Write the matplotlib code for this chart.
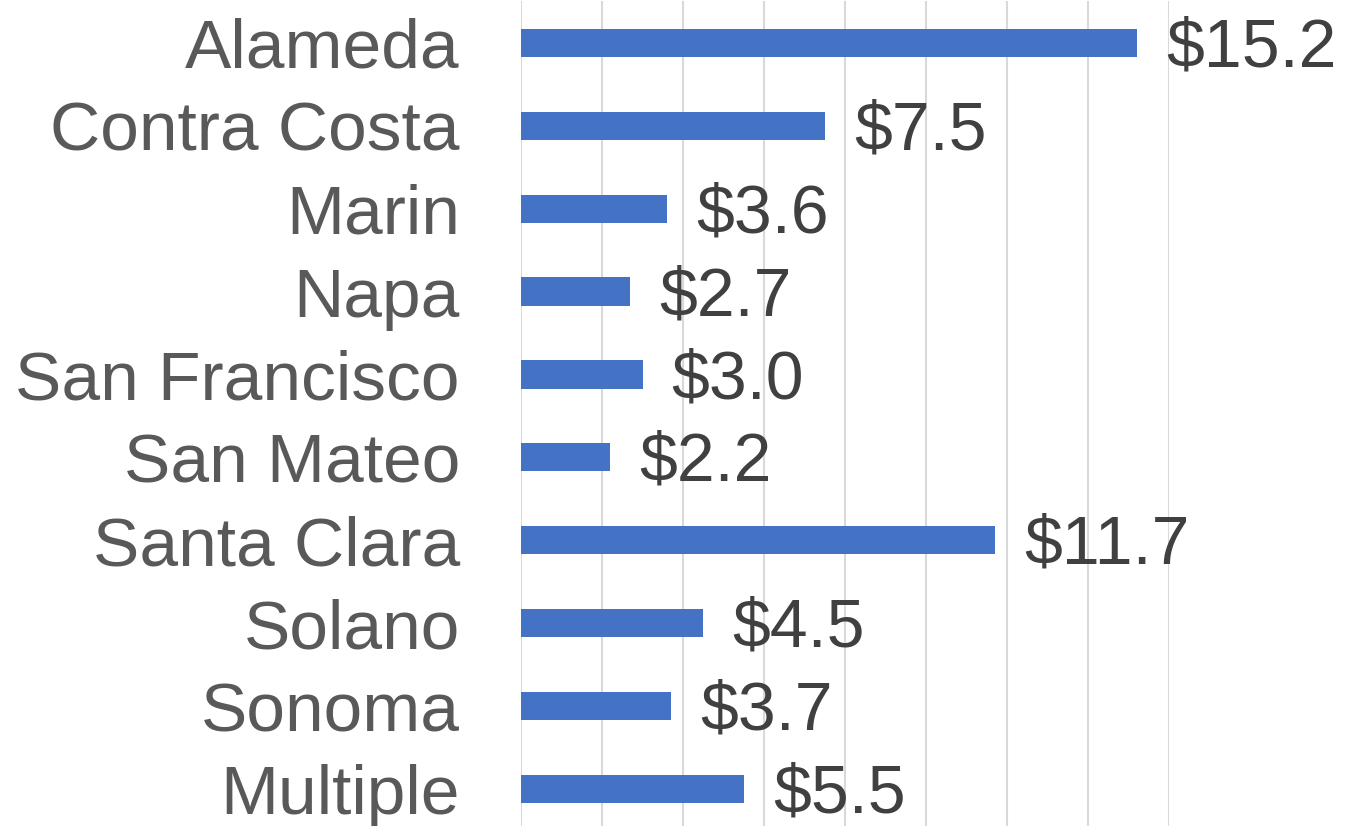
import matplotlib.pyplot as plt

counties = ["Alameda", "Contra Costa", "Marin", "Napa", "San Francisco",
            "San Mateo", "Santa Clara", "Solano", "Sonoma", "Multiple"]
amounts = [15.2, 7.5, 3.6, 2.7, 3.0, 2.2, 11.7, 4.5, 3.7, 5.5]

plt.rcParams["font.family"] = ["Liberation Sans", "DejaVu Sans"]

fig = plt.figure(figsize=(13.55, 8.26), dpi=100)
ax = fig.add_axes([521 / 1355, -4.4 / 826, (1169 - 521) / 1355, 829 / 826])

ypos = list(range(len(counties)))
ax.barh(ypos, amounts, height=0.34, color="#4472C4", zorder=3)

# value labels to the right of each bar
for y, v in zip(ypos, amounts):
    ax.annotate(f"${v:.1f}", xy=(v, y), xytext=(21, -4), textcoords="offset points",
                va="center", ha="left", fontsize=49, color="#404040",
                annotation_clip=False)

ax.set_xlim(0, 16)
ax.set_ylim(len(counties) - 0.5, -0.5)
ax.set_xticks(range(0, 17, 2))
ax.set_xticklabels([])
ax.set_yticks(ypos)
ax.set_yticklabels(counties, fontsize=50, color="#595959")
ax.tick_params(axis="y", length=0, pad=44)
ax.tick_params(axis="x", length=0)
ax.grid(axis="x", color="#D9D9D9", linewidth=1.5, zorder=0)
for s in ax.spines.values():
    s.set_visible(False)

fig.savefig("out.png", dpi=100)
